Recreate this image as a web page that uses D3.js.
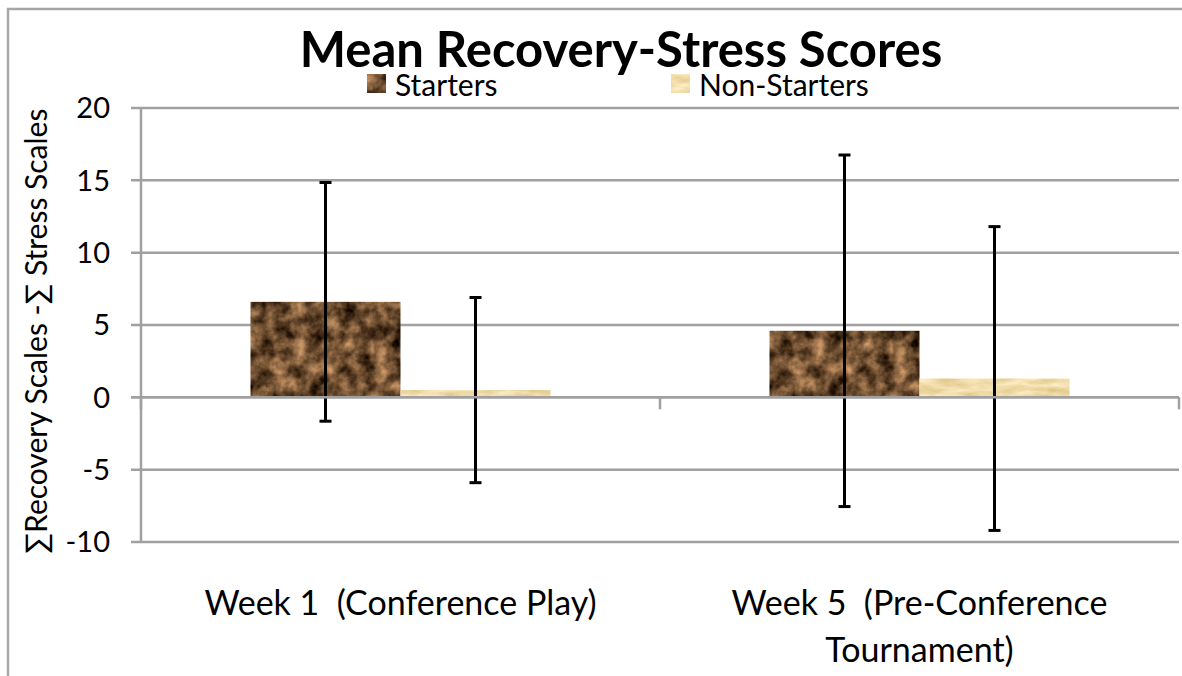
<!DOCTYPE html>
<html>
<head>
<meta charset="utf-8">
<script src="https://cdn.jsdelivr.net/npm/d3@7"></script>
<style>
  body { margin: 0; background: #fff; }
  text { font-family: Lato, "Open Sans", sans-serif; fill: #000; }
</style>
</head>
<body>
<script>
var svgWidth = 1182;
var svgHeight = 676;

// chart values
var categories = ["Week 1  (Conference Play)", "Week 5  (Pre-Conference Tournament)"];
var categoryLines = [["Week 1  (Conference Play)"], ["Week 5  (Pre-Conference", "Tournament)"]];
var seriesNames = ["Starters", "Non-Starters"];
var startersMean = [6.6, 4.6];
var startersSD = [8.25, 12.15];
var nonStartersMean = [0.5, 1.3];
var nonStartersSD = [6.4, 10.5];
var yTicks = [-10, -5, 0, 5, 10, 15, 20];

var margin = { top: 108, right: 2, bottom: 134, left: 141 };
var width = svgWidth - margin.left - margin.right;
var height = svgHeight - margin.top - margin.bottom;

var svg = d3.select("body")
  .append("svg")
  .attr("width", svgWidth)
  .attr("height", svgHeight);

// textures for the bars
var defs = svg.append("defs");
function texture(id, freq, seed, matrix) {
  var f = defs.append("filter").attr("id", id)
    .attr("x", 0).attr("y", 0).attr("width", 1).attr("height", 1)
    .attr("color-interpolation-filters", "sRGB");
  f.append("feTurbulence").attr("type", "fractalNoise")
    .attr("baseFrequency", freq).attr("numOctaves", 4).attr("seed", seed).attr("result", "n");
  f.append("feColorMatrix").attr("in", "n").attr("type", "matrix").attr("values", matrix).attr("result", "c");
  f.append("feComposite").attr("in", "c").attr("in2", "SourceGraphic").attr("operator", "in");
}
texture("brown", "0.06", 4,
  "1.2 0 0 0 -0.17  0.95 0 0 0 -0.17  0.7 0 0 0 -0.16  0 0 0 0 1");
texture("tan", "0.04 0.15", 7,
  "0.2 0 0 0 0.84  0.25 0 0 0 0.735  0.4 0 0 0 0.46  0 0 0 0 1");
var fills = { "Starters": "url(#brown)", "Non-Starters": "url(#tan)" };

// outer chart border
svg.append("path")
  .attr("d", "M8,676 L8,9 L1182,9")
  .attr("fill", "none")
  .attr("stroke", "#a6a6a6")
  .attr("stroke-width", 2.5);

var g = svg.append("g")
  .attr("transform", "translate(" + margin.left + "," + margin.top + ")");

var y = d3.scaleLinear().domain([-10, 20]).range([height, 0]);
var x0 = d3.scaleBand().domain(categories).range([0, width - 1]);
var x1 = d3.scaleBand().domain(seriesNames).range([0, x0.bandwidth()]).paddingOuter(0.73);

// gridlines with small ticks on the left
g.selectAll(".grid")
  .data(yTicks)
  .enter().append("line")
  .attr("x1", -10)
  .attr("x2", width - 1)
  .attr("y1", function(d) { return y(d); })
  .attr("y2", function(d) { return y(d); })
  .attr("stroke", "#a0a0a0")
  .attr("stroke-width", 2.5);

g.append("line")
  .attr("x1", 0).attr("x2", 0)
  .attr("y1", 0).attr("y2", height)
  .attr("stroke", "#a0a0a0")
  .attr("stroke-width", 2.5);

g.selectAll(".ylab")
  .data(yTicks)
  .enter().append("text")
  .attr("x", -31)
  .attr("y", function(d) { return y(d); })
  .attr("dy", "0.36em")
  .attr("text-anchor", "end")
  .style("font-size", "29px")
  .text(function(d) { return d; });

// bars
var rows = categories.map(function(c, i) {
  return [
    { cat: c, s: "Starters", v: startersMean[i], sd: startersSD[i] },
    { cat: c, s: "Non-Starters", v: nonStartersMean[i], sd: nonStartersSD[i] }
  ];
});

var groups = g.selectAll(".grp")
  .data(rows)
  .enter().append("g")
  .attr("transform", function(d) { return "translate(" + x0(d[0].cat) + ",0)"; });

groups.selectAll("rect")
  .data(function(d) { return d; })
  .enter().append("rect")
  .attr("x", function(d) { return x1(d.s); })
  .attr("width", x1.bandwidth())
  .attr("y", function(d) { return y(Math.max(0, d.v)); })
  .attr("height", function(d) { return Math.abs(y(d.v) - y(0)); })
  .attr("fill", "#fff")
  .attr("filter", function(d) { return fills[d.s]; });

// category axis on zero
g.append("line")
  .attr("x1", -10).attr("x2", width - 1)
  .attr("y1", y(0)).attr("y2", y(0))
  .attr("stroke", "#a0a0a0").attr("stroke-width", 2.5);

var bounds = categories.map(function(c) { return x0(c); }).concat([x0.range()[1]]);
g.selectAll(".ctick")
  .data(bounds)
  .enter().append("line")
  .attr("x1", function(d) { return d; })
  .attr("x2", function(d) { return d; })
  .attr("y1", y(0))
  .attr("y2", y(0) + 12)
  .attr("stroke", "#a0a0a0").attr("stroke-width", 2.5);

// error bars
var err = groups.selectAll(".err")
  .data(function(d) { return d; })
  .enter().append("g")
  .attr("transform", function(d) { return "translate(" + (x1(d.s) + x1.bandwidth() / 2) + ",0)"; });

err.append("line")
  .attr("x1", 0).attr("x2", 0)
  .attr("y1", function(d) { return y(d.v + d.sd); })
  .attr("y2", function(d) { return y(d.v - d.sd); })
  .attr("stroke", "#000").attr("stroke-width", 3);

[1, -1].forEach(function(sign) {
  err.append("line")
    .attr("x1", -6).attr("x2", 6)
    .attr("y1", function(d) { return y(d.v + sign * d.sd); })
    .attr("y2", function(d) { return y(d.v + sign * d.sd); })
    .attr("stroke", "#000").attr("stroke-width", 3);
});

// category labels
categories.forEach(function(c, i) {
  var t = g.append("text")
    .attr("x", x0(c) + x0.bandwidth() / 2)
    .attr("y", 615 - margin.top)
    .attr("text-anchor", "middle")
    .style("font-size", "34px");
  categoryLines[i].forEach(function(line, j) {
    t.append("tspan")
      .attr("x", x0(c) + x0.bandwidth() / 2)
      .attr("dy", j === 0 ? 0 : 47)
      .attr("xml:space", "preserve")
      .style("white-space", "pre")
      .text(line);
  });
});

// y axis title
svg.append("text")
  .attr("transform", "translate(47," + (margin.top + height / 2 + 6) + ") rotate(-90)")
  .attr("text-anchor", "middle")
  .style("font-size", "30px")
  .text("\u2211Recovery Scales -\u2211 Stress Scales");

// title
svg.append("text")
  .attr("x", 621)
  .attr("y", 67)
  .attr("text-anchor", "middle")
  .style("font-size", "49px")
  .style("font-weight", "bold")
  .text("Mean Recovery-Stress Scores");

// legend
var legendX = [367, 671];
var legend = svg.selectAll(".legend")
  .data(seriesNames)
  .enter().append("g")
  .attr("transform", function(d, i) { return "translate(" + legendX[i] + ",74)"; });

legend.append("rect")
  .attr("width", 19).attr("height", 19)
  .attr("fill", "#fff")
  .attr("filter", function(d) { return fills[d]; });

legend.append("text")
  .attr("x", 28)
  .attr("y", 22)
  .style("font-size", "30px")
  .text(function(d) { return d; });
</script>
</body>
</html>
